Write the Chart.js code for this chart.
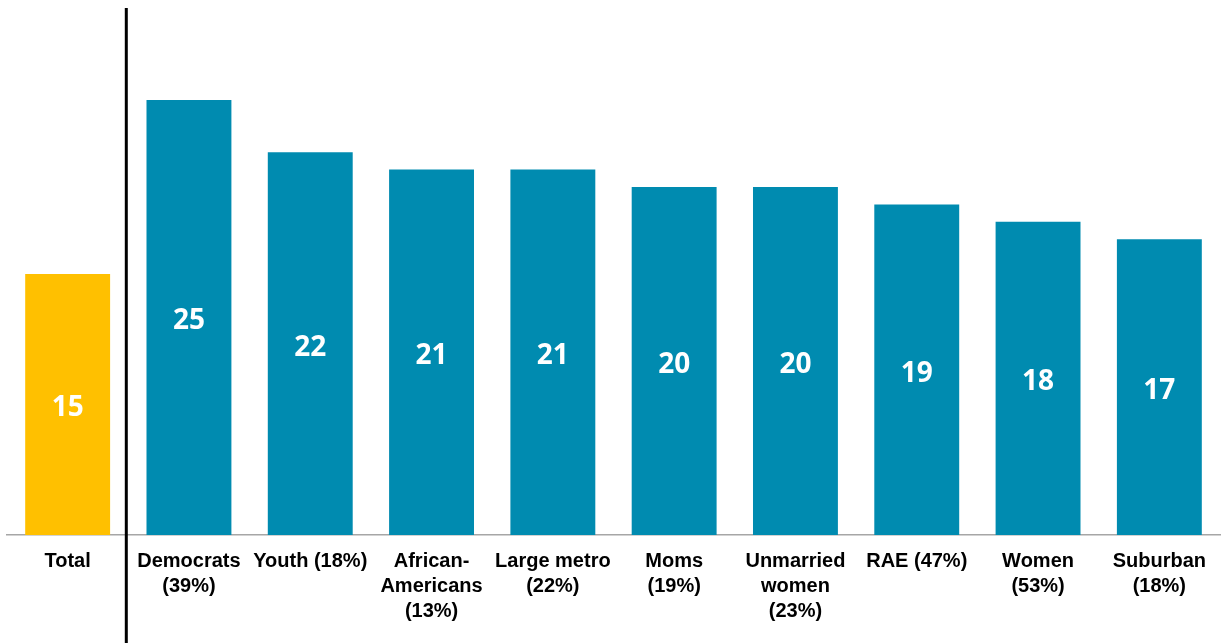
<!DOCTYPE html>
<html>
<head>
<meta charset="utf-8">
<script src="https://cdn.jsdelivr.net/npm/chart.js@4"></script>
<style>
  html, body { margin: 0; padding: 0; background: #fff; }
  #wrap { width: 1221px; height: 643px; }
</style>
</head>
<body>
<div id="wrap"><canvas id="myChart" width="1221" height="643"></canvas></div>
<script>
var labels = [
  "Total",
  ["Democrats", "(39%)"],
  "Youth (18%)",
  ["African-", "Americans", "(13%)"],
  ["Large metro", "(22%)"],
  ["Moms", "(19%)"],
  ["Unmarried", "women", "(23%)"],
  "RAE (47%)",
  ["Women", "(53%)"],
  ["Suburban", "(18%)"]
];
var values = [15, 25, 22, 21, 21, 20, 20, 19, 18, 17];
var colors = ["#FFC000", "#008BB0", "#008BB0", "#008BB0", "#008BB0", "#008BB0", "#008BB0", "#008BB0", "#008BB0", "#008BB0"];

// white numbers in the middle of each bar
var barLabels = {
  id: "barLabels",
  afterDatasetsDraw(chart) {
    const ctx = chart.ctx;
    const meta = chart.getDatasetMeta(0);
    ctx.save();
    ctx.fillStyle = "#fff";
    ctx.font = "bold 28px 'Open Sans'";
    ctx.textAlign = "center";
    ctx.textBaseline = "middle";
    meta.data.forEach((bar, i) => {
      ctx.fillText(values[i], bar.x, (bar.y + bar.base) / 2 + 4);
    });
    ctx.restore();
  }
};

// black divider between Total and the groups
var divider = {
  id: "divider",
  afterDraw(chart) {
    const x = chart.scales.x;
    const ctx = chart.ctx;
    const px = (x.getPixelForValue(0) + x.getPixelForValue(1)) / 2 - 2;
    ctx.save();
    ctx.strokeStyle = "#000";
    ctx.lineWidth = 3;
    ctx.beginPath();
    ctx.moveTo(px, chart.chartArea.top - 5);
    ctx.lineTo(px, chart.height);
    ctx.stroke();
    ctx.restore();
  }
};

new Chart(document.getElementById("myChart"), {
  type: "bar",
  data: {
    labels: labels,
    datasets: [{
      data: values,
      backgroundColor: colors,
      borderWidth: 0,
      categoryPercentage: 1,
      barPercentage: 0.70
    }]
  },
  options: {
    responsive: false,
    animation: false,
    layout: { padding: { top: 13, left: 7, right: 1, bottom: 0 } },
    plugins: { legend: { display: false }, tooltip: { enabled: false } },
    scales: {
      y: { display: false, min: 0, max: 30 },
      x: {
        grid: { display: false, drawTicks: false },
        border: { display: true, color: "#A6A6A6", width: 1.5 },
        ticks: {
          color: "#000",
          font: { family: "'Liberation Sans', Arial", size: 20, weight: "bold", lineHeight: 1.25 },
          padding: 14,
          maxRotation: 0,
          autoSkip: false
        },
        afterFit(scale) { scale.height = 108; }
      }
    }
  },
  plugins: [barLabels, divider]
});
</script>
</body>
</html>
